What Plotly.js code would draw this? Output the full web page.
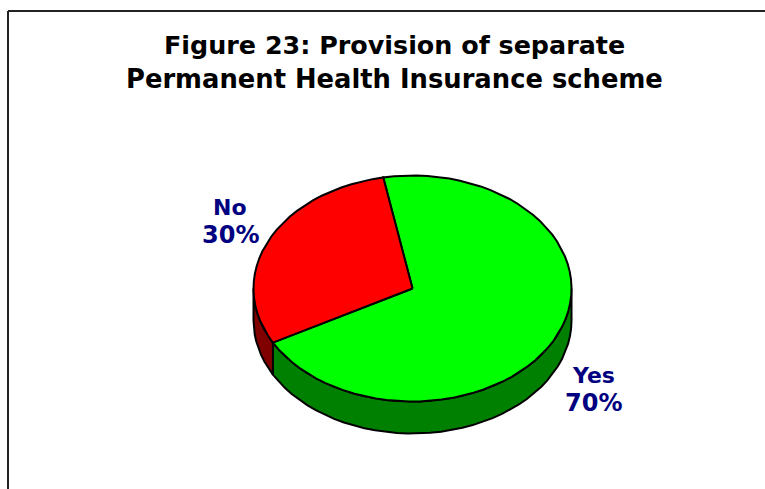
<!DOCTYPE html>
<html>
<head>
<meta charset="utf-8">
<script src="https://cdn.plot.ly/plotly-3.0.1.min.js"></script>
<style>html,body{margin:0;padding:0;background:#fff}#chart{width:765px;height:489px}</style>
</head>
<body>
<div id="chart"></div>
<script>
const categories = ['Yes', 'No'];
const shareValues = [70, 30];
const topColors = ['#00ff00', '#ff0000'];
const wallColors = ['#008000', '#800000'];
const titleLines = ['Figure 23: Provision of separate', 'Permanent Health Insurance scheme'];
const titleSizes = [25.4, 25.8];
const labelSpots = [[593.5, 375], [230, 207]];

// Geometry of the tilted pie, in page-sized axis units
const cx = 412.5, cy = 288.5, rx = 159, ry = 113, depth = 32, startDeg = -10.6;
const rad = d => d * Math.PI / 180;
const px = d => cx + rx * Math.sin(rad(d));
const py = (d, off) => cy - ry * Math.cos(rad(d)) + (off || 0);
function arc(a, b, off) {
  const xs = [], ys = [], n = Math.max(2, Math.ceil(Math.abs(b - a) / 4));
  for (let i = 0; i <= n; i++) {
    const d = a + (b - a) * i / n;
    xs.push(px(d)); ys.push(py(d, off));
  }
  return [xs, ys];
}

const total = shareValues.reduce((s, v) => s + v, 0);
const walls = [], tops = [];
let cursor = startDeg;
categories.forEach((name, i) => {
  const a = cursor, b = cursor + 360 * shareValues[i] / total;
  cursor = b;
  // Visible wall: the part of the slice on the front half (90..270 degrees)
  const wa = Math.max(a, 90), wb = Math.min(b, 270);
  if (wb > wa) {
    const [ux, uy] = arc(wa, wb, 0);
    const [lx, ly] = arc(wb, wa, depth);
    walls.push({
      x: ux.concat(lx, [ux[0]]), y: uy.concat(ly, [uy[0]]),
      mode: 'lines', fill: 'toself', fillcolor: wallColors[i],
      line: {color: '#000', width: 2}, name: name + ' side',
      hoverinfo: 'skip', showlegend: false
    });
  }
  const [tx, ty] = arc(a, b, 0);
  tops.push({
    x: [cx].concat(tx, [cx]), y: [cy].concat(ty, [cy]),
    mode: 'lines', fill: 'toself', fillcolor: topColors[i],
    line: {color: '#000', width: 2}, name: name,
    text: name + ' ' + shareValues[i] + '%', hoverinfo: 'text', showlegend: false
  });
});

const font = 'DejaVu Sans, Verdana, sans-serif';
const note = (x, y, text, size, color) => ({
  x: x, y: y, text: '<b>' + text + '</b>', showarrow: false,
  xanchor: 'center', yanchor: 'middle', font: {family: font, size: size, color: color}
});
const annotations = titleLines.map((t, i) => note(394, 45 + 34 * i, t, titleSizes[i], '#000'));
categories.forEach((c, i) => {
  annotations.push(note(labelSpots[i][0], labelSpots[i][1], c, 22, '#000080'));
  annotations.push(note(labelSpots[i][0], labelSpots[i][1] + 28, shareValues[i] + '%', 24, '#000080'));
});

const axis = {visible: false, fixedrange: true};
Plotly.newPlot('chart', walls.concat(tops), {
  width: 765, height: 489,
  margin: {l: 0, r: 0, t: 0, b: 0},
  paper_bgcolor: '#fff', plot_bgcolor: '#fff',
  xaxis: Object.assign({range: [0, 765]}, axis),
  yaxis: Object.assign({range: [489, 0]}, axis),
  annotations: annotations,
  shapes: [
    {type: 'line', x0: 8, x1: 765, y0: 11, y1: 11, line: {color: '#222', width: 2}},
    {type: 'line', x0: 8, x1: 8, y0: 11, y1: 489, line: {color: '#222', width: 2}}
  ]
}, {displayModeBar: false, staticPlot: true});
</script>
</body>
</html>
